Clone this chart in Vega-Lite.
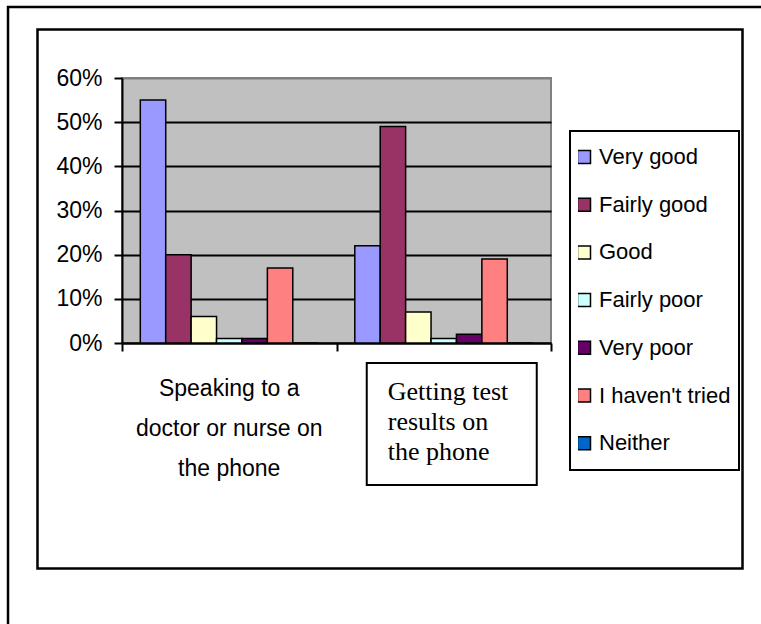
{
  "$schema": "https://vega.github.io/schema/vega-lite/v6.json",
  "width": 429,
  "height": 265,
  "autosize": {"type": "none"},
  "padding": {"left": 122, "top": 78, "right": 210, "bottom": 281},
  "background": "white",
  "config": {
    "view": {"fill": "#C0C0C0", "stroke": "#808080", "strokeWidth": 2},
    "font": "Liberation Sans"
  },
  "datasets": {
    "bars": [
      {"item": "Speaking to a doctor or nurse on the phone", "rating": "Very good", "share": 0.55},
      {"item": "Speaking to a doctor or nurse on the phone", "rating": "Fairly good", "share": 0.20},
      {"item": "Speaking to a doctor or nurse on the phone", "rating": "Good", "share": 0.06},
      {"item": "Speaking to a doctor or nurse on the phone", "rating": "Fairly poor", "share": 0.01},
      {"item": "Speaking to a doctor or nurse on the phone", "rating": "Very poor", "share": 0.01},
      {"item": "Speaking to a doctor or nurse on the phone", "rating": "I haven't tried", "share": 0.17},
      {"item": "Speaking to a doctor or nurse on the phone", "rating": "Neither", "share": 0},
      {"item": "Getting test results on the phone", "rating": "Very good", "share": 0.22},
      {"item": "Getting test results on the phone", "rating": "Fairly good", "share": 0.49},
      {"item": "Getting test results on the phone", "rating": "Good", "share": 0.07},
      {"item": "Getting test results on the phone", "rating": "Fairly poor", "share": 0.01},
      {"item": "Getting test results on the phone", "rating": "Very poor", "share": 0.02},
      {"item": "Getting test results on the phone", "rating": "I haven't tried", "share": 0.19},
      {"item": "Getting test results on the phone", "rating": "Neither", "share": 0}
    ],
    "cats": [
      {"item": "Speaking to a doctor or nurse on the phone", "label": "Speaking to a\ndoctor or nurse on\nthe phone"},
      {"item": "Getting test results on the phone", "label": "Getting test\nresults on\nthe phone"}
    ],
    "frames": [
      {"frame": "outer"},
      {"frame": "inner"}
    ]
  },
  "layer": [
    {
      "data": {"name": "frames"},
      "layer": [
        {
          "transform": [{"filter": "datum.frame == 'outer'"}],
          "mark": {"type": "rect", "filled": false, "stroke": "black", "strokeWidth": 2.5, "clip": false},
          "encoding": {
            "x": {"datum": -0.2657, "type": "quantitative", "scale": {"domain": [0, 1], "nice": false, "zero": false}, "axis": null},
            "x2": {"datum": 1.8},
            "y": {"datum": 1.268, "type": "quantitative", "scale": {"domain": [0, 1], "nice": false, "zero": false}, "axis": null},
            "y2": {"datum": -1.5}
          }
        },
        {
          "transform": [{"filter": "datum.frame == 'inner'"}],
          "mark": {"type": "rect", "filled": false, "stroke": "black", "strokeWidth": 2.5, "clip": false},
          "encoding": {
            "x": {"datum": -0.197, "type": "quantitative", "scale": {"domain": [0, 1], "nice": false, "zero": false}, "axis": null},
            "x2": {"datum": 1.4464},
            "y": {"datum": 1.183, "type": "quantitative", "scale": {"domain": [0, 1], "nice": false, "zero": false}, "axis": null},
            "y2": {"datum": -0.851}
          }
        }
      ]
    },
    {
      "layer": [
        {
          "data": {"name": "bars"},
          "mark": {"type": "bar", "stroke": "black", "strokeWidth": 1.5},
          "encoding": {
            "x": {
              "field": "item", "type": "nominal",
              "sort": ["Speaking to a doctor or nurse on the phone", "Getting test results on the phone"],
              "scale": {"domain": ["Speaking to a doctor or nurse on the phone", "Getting test results on the phone"], "paddingInner": 0, "paddingOuter": 0},
              "axis": {"labels": false, "title": null, "tickBand": "extent", "tickSize": 8, "tickColor": "black", "tickWidth": 2, "domainColor": "black", "domainWidth": 2, "grid": false},
              "title": null
            },
            "xOffset": {
              "field": "rating", "type": "nominal",
              "sort": ["Very good", "Fairly good", "Good", "Fairly poor", "Very poor", "I haven't tried", "Neither"],
              "scale": {"paddingInner": 0, "paddingOuter": 0.72}
            },
            "y": {
              "field": "share", "type": "quantitative",
              "scale": {"domain": [0, 0.6], "nice": false},
              "axis": {
                "values": [0, 0.1, 0.2, 0.3, 0.4, 0.5, 0.6],
                "format": ".0%",
                "labelFontSize": 23,
                "labelFont": "Liberation Sans",
                "labelColor": "black",
                "labelPadding": 12,
                "tickSize": 8,
                "tickColor": "black",
                "tickWidth": 2,
                "domainColor": "black",
                "domainWidth": 2,
                "grid": true,
                "gridColor": {"condition": {"test": "datum.value >= 0.59", "value": "#808080"}, "value": "black"},
                "gridWidth": 2,
                "title": null
              },
              "title": null
            },
            "color": {
              "field": "rating", "type": "nominal",
              "scale": {
                "domain": ["Very good", "Fairly good", "Good", "Fairly poor", "Very poor", "I haven't tried", "Neither"],
                "range": ["#9999FF", "#993366", "#FFFFCC", "#CCFFFF", "#660066", "#FF8080", "#0066CC"]
              },
              "legend": {
                "orient": "none",
                "legendX": 448,
                "legendY": 53,
                "title": null,
                "symbolType": "square",
                "symbolSize": 169,
                "symbolStrokeColor": "black",
                "symbolStrokeWidth": 1.5,
                "symbolOffset": -5,
                "labelFontSize": 22,
                "labelFont": "Liberation Sans",
                "labelColor": "black",
                "labelOffset": 4,
                "labelLimit": 300,
                "clipHeight": 36,
                "rowPadding": 11.7,
                "padding": 8,
                "strokeColor": "black",
                "fillColor": "white",
                "encode": {"legend": {"update": {"strokeWidth": {"value": 2}}}}
              }
            }
          }
        },
        {
          "data": {"name": "cats"},
          "transform": [{"filter": "datum.item == 'Getting test results on the phone'"}],
          "mark": {"type": "bar", "fill": "white", "stroke": "black", "strokeWidth": 2, "width": 170, "xOffset": 8, "clip": false},
          "encoding": {
            "x": {"field": "item", "type": "nominal", "title": null},
            "y": {"datum": -0.0453, "type": "quantitative", "title": null},
            "y2": {"datum": -0.3215}
          }
        },
        {
          "data": {"name": "cats"},
          "transform": [{"filter": "datum.item == 'Speaking to a doctor or nurse on the phone'"}],
          "mark": {"type": "text", "font": "Liberation Sans", "fontSize": 23, "align": "center", "baseline": "alphabetic", "lineBreak": "\n", "lineHeight": 40, "dy": 53, "color": "black", "clip": false},
          "encoding": {
            "x": {"field": "item", "type": "nominal", "title": null},
            "y": {"datum": 0, "type": "quantitative", "title": null},
            "text": {"field": "label"}
          }
        },
        {
          "data": {"name": "cats"},
          "transform": [{"filter": "datum.item == 'Getting test results on the phone'"}],
          "mark": {"type": "text", "font": "Liberation Serif", "fontSize": 26, "align": "left", "baseline": "alphabetic", "lineBreak": "\n", "lineHeight": 30, "dx": -56, "dy": 57, "color": "black", "clip": false},
          "encoding": {
            "x": {"field": "item", "type": "nominal", "title": null},
            "y": {"datum": 0, "type": "quantitative", "title": null},
            "text": {"field": "label"}
          }
        }
      ]
    }
  ],
  "resolve": {"scale": {"x": "independent", "y": "independent"}}
}
